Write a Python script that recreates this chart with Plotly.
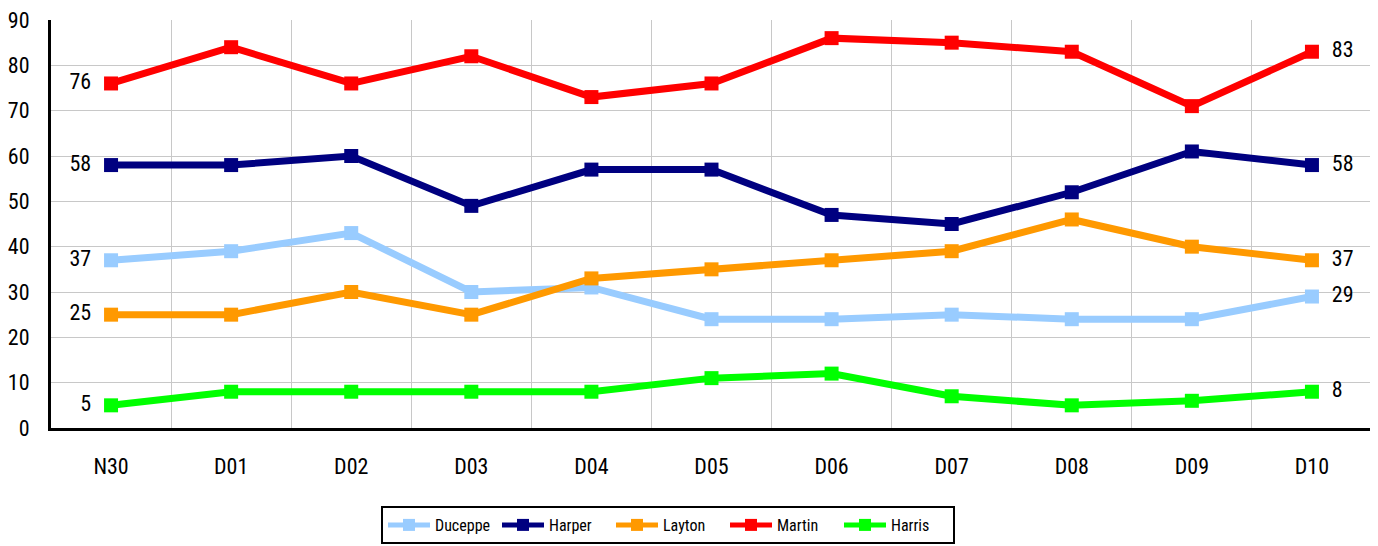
import plotly.graph_objects as go

categories = ["N30", "D01", "D02", "D03", "D04", "D05", "D06", "D07", "D08", "D09", "D10"]
duceppe = [37, 39, 43, 30, 31, 24, 24, 25, 24, 24, 29]
harper = [58, 58, 60, 49, 57, 57, 47, 45, 52, 61, 58]
layton = [25, 25, 30, 25, 33, 35, 37, 39, 46, 40, 37]
martin = [76, 84, 76, 82, 73, 76, 86, 85, 83, 71, 83]
harris = [5, 8, 8, 8, 8, 11, 12, 7, 5, 6, 8]

series = [
    ("Duceppe", duceppe, "#99CCFF"),
    ("Harper", harper, "#000080"),
    ("Layton", layton, "#FF9900"),
    ("Martin", martin, "#FF0000"),
    ("Harris", harris, "#00FF00"),
]

FONT = "Roboto Condensed, DejaVu Sans Condensed, sans-serif"
NB = "\u00a0"

fig = go.Figure()
n = len(categories)
for name, vals, color in series:
    texts = []
    for i, v in enumerate(vals):
        if i == 0:
            texts.append(str(v) + NB * 2)
        elif i == n - 1:
            texts.append(NB * 2 + str(v))
        else:
            texts.append("")
    positions = ["middle left" if i == 0 else "middle right" for i in range(n)]
    fig.add_trace(go.Scatter(
        x=categories, y=vals, name=name, mode="lines+markers+text",
        line=dict(color=color, width=7),
        marker=dict(symbol="square", size=14, color=color),
        text=texts, textposition=positions,
        textfont=dict(family=FONT, size=22, color="black"),
        cliponaxis=False,
    ))

# page has an 8px body margin; compensate so the plot lands where the reference has it
fig.update_layout(
    width=1378, height=546,
    margin=dict(l=43, r=14, t=12, b=126, autoexpand=False),
    paper_bgcolor="white", plot_bgcolor="white",
    font=dict(family=FONT, size=22, color="black"),
    showlegend=True,
    legend=dict(
        orientation="h", xref="container", yref="container",
        x=373 / 1378, y=(546 - 498) / 546, xanchor="left", yanchor="top",
        bordercolor="black", borderwidth=2, font=dict(family=FONT, size=16),
        tracegroupgap=0, itemsizing="constant", itemwidth=42, entrywidth=57,
    ),
    xaxis=dict(
        type="category", range=[-0.5, n - 0.5], tickson="boundaries",
        showgrid=True, gridcolor="#c8c8c8", gridwidth=1,
        showline=True, linecolor="black", linewidth=3,
        ticks="", ticklabelstandoff=17, tickfont=dict(size=22),
        ticklabeloverflow="allow",
    ),
    yaxis=dict(
        range=[0, 90], dtick=10, showgrid=True, gridcolor="#c8c8c8", gridwidth=1,
        showline=True, linecolor="black", linewidth=3, zeroline=False,
        ticks="", ticklabelstandoff=14, tickfont=dict(size=22),
        ticklabeloverflow="allow",
    ),
)

fig.write_html("out.html")
